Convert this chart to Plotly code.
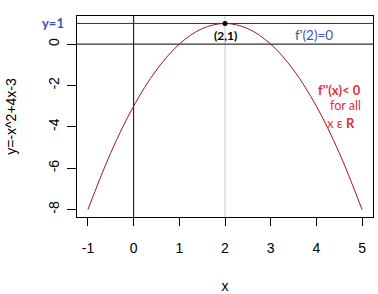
import plotly.graph_objects as go

# data (y = -x^2 + 4x - 3)
x_vals = [-1, -0.5, 0, 0.5, 1, 1.5, 2, 2.5, 3, 3.5, 4, 4.5, 5]
y_vals = [-8, -5.25, -3, -1.25, 0, 0.75, 1, 0.75, 0, -1.25, -3, -5.25, -8]
x_ticks = [-1, 0, 1, 2, 3, 4, 5]
y_ticks = [-8, -6, -4, -2, 0]
vertex = (2, 1)
h_line_y1 = 1
h_line_y0 = 0
v_line_x0 = 0
v_line_x2 = 2

W, H = 378, 294
L, R, T, B = 77, 5, 16, 77
pw = W - L - R
ph = H - T - B

fig = go.Figure()
fig.add_trace(go.Scatter(x=x_vals, y=y_vals, mode="lines",
                         line=dict(color="#A3141E", width=1, shape="spline"),
                         hoverinfo="skip"))
fig.add_trace(go.Scatter(x=[vertex[0]], y=[vertex[1]], mode="markers",
                         marker=dict(color="black", size=5), hoverinfo="skip"))

shapes = [
    dict(type="line", xref="x", yref="paper", x0=v_line_x2, x1=v_line_x2, y0=0, y1=1,
         line=dict(color="#c8c8c8", width=1), layer="below"),
    dict(type="line", xref="x", yref="paper", x0=v_line_x0, x1=v_line_x0, y0=0, y1=1,
         line=dict(color="black", width=1), layer="below"),
    dict(type="line", xref="paper", yref="y", x0=0, x1=1, y0=h_line_y0, y1=h_line_y0,
         line=dict(color="black", width=1), layer="below"),
    dict(type="line", xref="paper", yref="y", x0=0, x1=1, y0=h_line_y1, y1=h_line_y1,
         line=dict(color="#262b85", width=1), layer="below"),
]

afont = "Lato, 'Open Sans', sans-serif"
blue = "#4152BE"
red = "#E0303A"

def px2x(px):
    return (px - L) / pw

def py2y(py):
    return 1 - (py - T) / ph

annotations = [
    dict(text="<b>y=1</b>", xref="paper", yref="y", x=px2x(66), y=h_line_y1,
         xanchor="right", yanchor="middle", showarrow=False,
         font=dict(family=afont, size=13, color=blue)),
    dict(text="<b>(2,1)</b>", xref="x", yref="paper", x=vertex[0], y=py2y(35),
         xanchor="center", yanchor="middle", showarrow=False,
         font=dict(family=afont, size=12, color="black")),
    dict(text="f'(2)=0", xref="paper", yref="paper", x=px2x(314), y=py2y(35),
         xanchor="center", yanchor="middle", showarrow=False,
         font=dict(family=afont, size=13.5, color=blue)),
    dict(text="<b>f''(x)< 0</b>", xref="paper", yref="paper", x=px2x(363), y=py2y(90),
         xanchor="right", yanchor="middle", showarrow=False,
         font=dict(family=afont, size=13, color=red)),
    dict(text="for all", xref="paper", yref="paper", x=px2x(363), y=py2y(106),
         xanchor="right", yanchor="middle", showarrow=False,
         font=dict(family=afont, size=12.5, color=red)),
    dict(text="x ε <b>R</b>", xref="paper", yref="paper", x=px2x(357), y=py2y(123),
         xanchor="right", yanchor="middle", showarrow=False,
         font=dict(family=afont, size=13, color=red)),
]

axfont = dict(family="Liberation Sans, Arial, sans-serif", size=14, color="black")

fig.update_layout(
    width=W, height=H,
    margin=dict(l=L, r=R, t=T, b=B, autoexpand=False),
    paper_bgcolor="white", plot_bgcolor="white",
    showlegend=False,
    shapes=shapes, annotations=annotations,
    xaxis=dict(range=[-1.24, 5.24], tickvals=x_ticks, ticktext=[str(v) for v in x_ticks],
               showgrid=False, zeroline=False, showline=True, mirror=True,
               linecolor="black", linewidth=1, ticks="outside", ticklen=8,
               tickcolor="black", tickfont=axfont, ticklabelstandoff=10,
               automargin=False,
               title=dict(text="x", font=axfont, standoff=32)),
    yaxis=dict(range=[-8.36, 1.36], tickvals=y_ticks, ticktext=[str(v) for v in y_ticks],
               showgrid=False, zeroline=False, showline=True, mirror=True,
               linecolor="black", linewidth=1, ticks="outside", ticklen=9,
               tickcolor="black", tickfont=axfont, tickangle=-90, ticklabelstandoff=2,
               automargin=False,
               title=dict(text="y=-x^2+4x-3", font=axfont, standoff=26)),
)

fig.write_html("out.html")
